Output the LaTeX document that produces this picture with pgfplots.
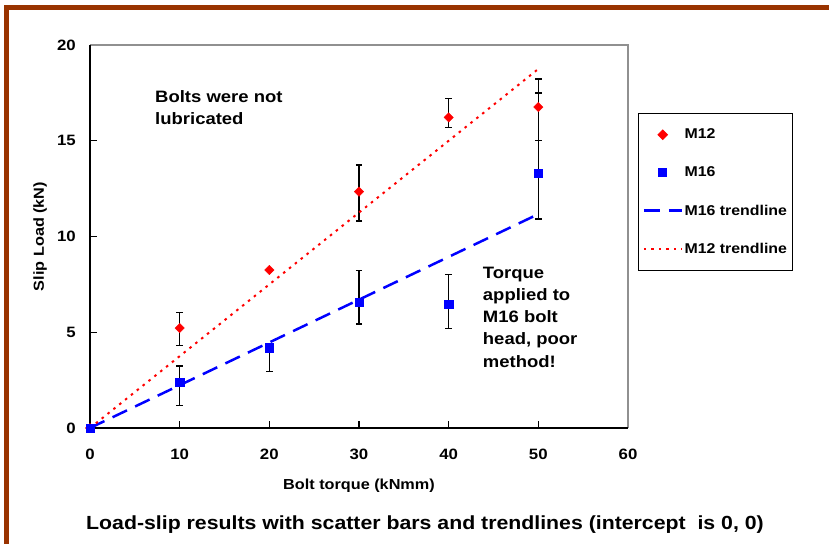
\documentclass[border=0pt]{standalone}
\usepackage{pgfplots}
\pgfplotsset{compat=1.18}
\usepackage{fontspec}
\setmainfont{Liberation Sans}[FakeStretch=1.12]

% colours
\definecolor{frameBrown}{HTML}{993300}
\definecolor{boxGray}{HTML}{909090}

\begin{document}
\begin{tikzpicture}
\path[use as bounding box] (0,0) rectangle (829bp,544bp);
\fill[white] (0,0) rectangle (829bp,544bp);
% outer brown frame (cut off at right and bottom)
\draw[frameBrown, line width=5bp] (6.5bp,-20bp) -- (6.5bp,536.5bp) -- (900bp,536.5bp);

\begin{axis}[
    at={(90bp,116bp)}, anchor=south west,
    scale only axis, width=538bp, height=383bp,
    xmin=0, xmax=60, ymin=0, ymax=20,
    xtick={0,10,...,60}, ytick={0,5,...,20},
    xtick pos=bottom, ytick pos=left,
    axis line style={draw=none},
    tick align=inside, major tick length=7bp,
    tick style={black, line width=1.3bp},
    /pgf/number format/assume math mode=true,
    ticklabel style={font=\fontsize{15bp}{18bp}\selectfont\bfseries, inner sep=0pt},
    xticklabel style={yshift=-21bp},
    yticklabel style={xshift=-14bp},
    xlabel={Bolt torque (kNmm)},
    ylabel={Slip Load (kN)},
    label style={font=\fontsize{14.5bp}{17bp}\selectfont\bfseries},
    xlabel style={at={(axis description cs:0.5,-0.1514)}, anchor=center},
    ylabel style={at={(axis description cs:-0.0929,0.5)}, anchor=center},
    legend image code/.code={
        \draw[mark repeat=2,mark phase=2,#1] plot coordinates {(0bp,0bp) (19bp,0bp) (38bp,0bp)};
    },
    legend style={
        at={(1.0186,0.8225)}, anchor=north west,
        draw=black, line width=1bp, fill=white,
        font=\fontsize{14.2bp}{16bp}\selectfont\bfseries,
        cells={anchor=west},
        row sep=23.5bp, inner xsep=4bp, inner ysep=14bp,
        nodes={inner sep=1.5bp},
    },
    clip=false,
]

% error bars first so that markers sit on top
\addplot[only marks, mark=none, forget plot,
    error bars/.cd, y dir=both, y explicit,
    error bar style={draw=black, line width=1.3bp},
    error mark options={draw=black, rotate=90, mark size=3.2bp, line width=1.3bp}]
coordinates {
    (10,5.22) += (0,0.80) -= (0,0.90)
    (30,12.34) += (0,1.39) -= (0,1.53)
    (40,16.22) += (0,0.98) -= (0,0.54)
    (50,16.76) += (0,1.46) -= (0,1.74)
};
\addplot[only marks, mark=none, forget plot,
    error bars/.cd, y dir=both, y explicit,
    error bar style={draw=black, line width=1.3bp},
    error mark options={draw=black, rotate=90, mark size=3.2bp, line width=1.3bp}]
coordinates {
    (10,2.38) += (0,0.86) -= (0,1.20)
    (20,4.19) += (0,0.00) -= (0,1.25)
    (30,6.56) += (0,1.65) -= (0,1.13)
    (40,6.47) += (0,1.55) -= (0,1.28)
    (50,13.30) += (0,4.20) -= (0,2.38)
};

% M12 data
\addplot[only marks, red, mark=square*, mark size=3.3bp,
    mark options={rotate=45, fill=red, draw=red}]
coordinates {(0,0) (10,5.22) (20,8.25) (30,12.34) (40,16.22) (50,16.76)};
\addlegendentry{M12}

% M16 data
\addplot[only marks, blue, mark=square*, mark size=4.2bp,
    mark options={fill=blue, draw=blue}]
coordinates {(0,0) (10,2.38) (20,4.19) (30,6.56) (40,6.47) (50,13.30)};
\addlegendentry{M16}

% trendlines (through origin)
\addplot[blue, line width=2.5bp, dash pattern=on 16bp off 9bp, mark=none]
coordinates {(0,0) (50,11.17)};
\addlegendentry{M16 trendline}

\addplot[red, line width=2bp, dash pattern=on 2.5bp off 5bp, mark=none]
coordinates {(0,0) (50,18.75)};
\addlegendentry{M12 trendline}

% plot box: black left/bottom, gray top/right
\draw[boxGray, line width=1.5bp] (rel axis cs:0,1) -- (rel axis cs:1,1) -- (rel axis cs:1,0);
\draw[black, line width=2bp] (rel axis cs:0,1) -- (rel axis cs:0,0) -- (rel axis cs:1,0);

% annotations
\node[anchor=north west, align=left, inner sep=0pt,
    font=\fontsize{16.5bp}{22bp}\selectfont\bfseries]
    at (axis cs:7.25,17.65) {Bolts were not\\lubricated};
\node[anchor=north west, align=left, inner sep=0pt,
    font=\fontsize{16.5bp}{22.2bp}\selectfont\bfseries]
    at (axis cs:43.8,8.42) {Torque\\applied to\\M16 bolt\\head, poor\\method!};

% caption under the chart
\node[font=\fontsize{19bp}{22bp}\selectfont\bfseries]
    at (axis description cs:0.6227,-0.2533)
    {Load-slip results with scatter bars and trendlines (intercept\ \ is 0, 0)};
\end{axis}
\end{tikzpicture}
\end{document}
